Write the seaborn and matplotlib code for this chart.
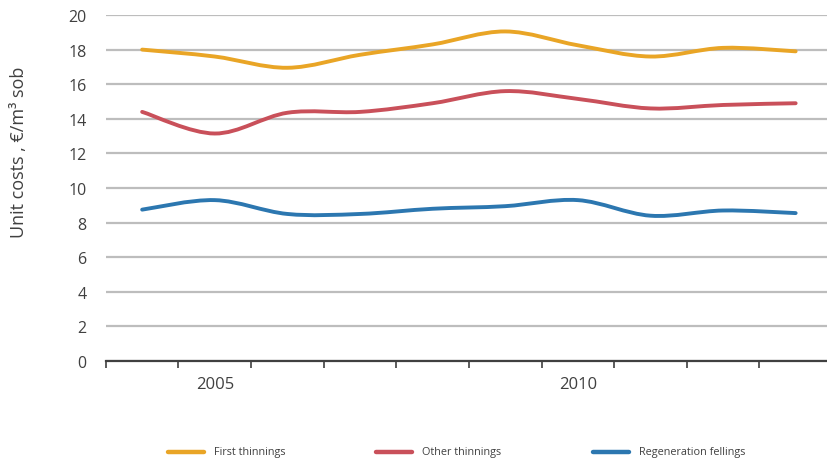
import numpy as np
import pandas as pd
import seaborn as sns
import matplotlib
matplotlib.use("Agg")
import matplotlib.pyplot as plt
from matplotlib.path import Path
from matplotlib.patches import PathPatch
from matplotlib.lines import Line2D

# Unit costs of harvesting, EUR per cubic metre solid over bark
years = [2004, 2005, 2006, 2007, 2008, 2009, 2010, 2011, 2012, 2013]
first_thinnings = [18.0, 17.6, 16.95, 17.7, 18.3, 19.05, 18.25, 17.6, 18.1, 17.9]
other_thinnings = [14.4, 13.15, 14.35, 14.4, 14.9, 15.6, 15.15, 14.6, 14.8, 14.9]
regeneration_fellings = [8.75, 9.3, 8.5, 8.5, 8.8, 8.95, 9.3, 8.4, 8.7, 8.55]

series_names = ["First thinnings", "Other thinnings", "Regeneration fellings"]
series_colors = ["#E9A526", "#C9505A", "#2C77B0"]
year_labels = {2005: "2005", 2010: "2010"}
y_ticks = [0, 2, 4, 6, 8, 10, 12, 14, 16, 18, 20]

df = pd.DataFrame({
    "year": years * 3,
    "series": sum([[n] * len(years) for n in series_names], []),
    "cost": first_thinnings + other_thinnings + regeneration_fellings,
})

sns.set_theme(style="white")
plt.rcParams["font.family"] = ["Open Sans", "DejaVu Sans"]

W, H = 827, 464
fig = plt.figure(figsize=(W / 100, H / 100), dpi=100)
ax = fig.add_axes([0.128, 0.2198, 0.878, 0.7457])


def smooth_path(xs, ys):
    """Cardinal-spline curve through the points as cubic Bezier segments."""
    pts = np.column_stack([xs, ys]).astype(float)
    n = len(pts)
    verts = [pts[0]]
    codes = [Path.MOVETO]
    for i in range(n - 1):
        p0 = pts[i - 1] if i > 0 else pts[i]
        p1, p2 = pts[i], pts[i + 1]
        p3 = pts[i + 2] if i + 2 < n else pts[i + 1]
        c1 = p1 + (p2 - p0) / 6.0
        c2 = p2 - (p3 - p1) / 6.0
        verts += [c1, c2, p2]
        codes += [Path.CURVE4] * 3
    return Path(verts, codes)


cat_index = {y: i for i, y in enumerate(years)}
for name, color in zip(series_names, series_colors):
    sub = df[df["series"] == name]
    xs = sub["year"].map(cat_index).to_numpy()
    ys = sub["cost"].to_numpy()
    patch = PathPatch(smooth_path(xs, ys), facecolor="none", edgecolor=color,
                      linewidth=2.8, capstyle="round", joinstyle="round",
                      transform=ax.transData, zorder=3)
    ax.add_patch(patch)

ax.set_xlim(-0.5, len(years) - 0.5)
ax.set_ylim(0, 20)

# horizontal gridlines
ax.set_yticks(y_ticks)
ax.yaxis.grid(True, color="#BDBDBD", linewidth=1.6)
ax.xaxis.grid(False)
ax.set_axisbelow(True)

# category boundary ticks, labels only at selected years
ax.set_xticks(np.arange(-0.5, len(years), 1.0))
ax.set_xticklabels([])
ax.set_xticks([cat_index[y] for y in year_labels], minor=True)
ax.set_xticklabels(list(year_labels.values()), minor=True)
ax.tick_params(axis="x", which="major", direction="out", length=5, width=1.2,
               color="#404040", bottom=True)
ax.tick_params(axis="x", which="minor", length=0, pad=11, labelsize=12,
               labelcolor="#404040")
ax.tick_params(axis="y", length=0, pad=14, labelsize=11.5, labelcolor="#404040")

for side in ["top", "right", "left"]:
    ax.spines[side].set_visible(False)
ax.spines["bottom"].set_color("#404040")
ax.spines["bottom"].set_linewidth(1.6)

fig.text(0.023, 1 - 152 / H, "Unit costs , €/m³ sob", rotation=90,
         ha="center", va="center", fontsize=13, color="#404040")

# legend row: colour swatch followed by its label
legend_y = 1 - 453 / H
legend_x = [168, 376, 593]
for x0, name, color in zip(legend_x, series_names, series_colors):
    fig.add_artist(Line2D([x0 / W, (x0 + 36) / W], [legend_y, legend_y],
                          color=color, linewidth=3.2, transform=fig.transFigure))
    fig.text((x0 + 46) / W, legend_y, name, ha="left", va="center",
             fontsize=7.8, color="#404040")

fig.savefig("out.png", dpi=100)
